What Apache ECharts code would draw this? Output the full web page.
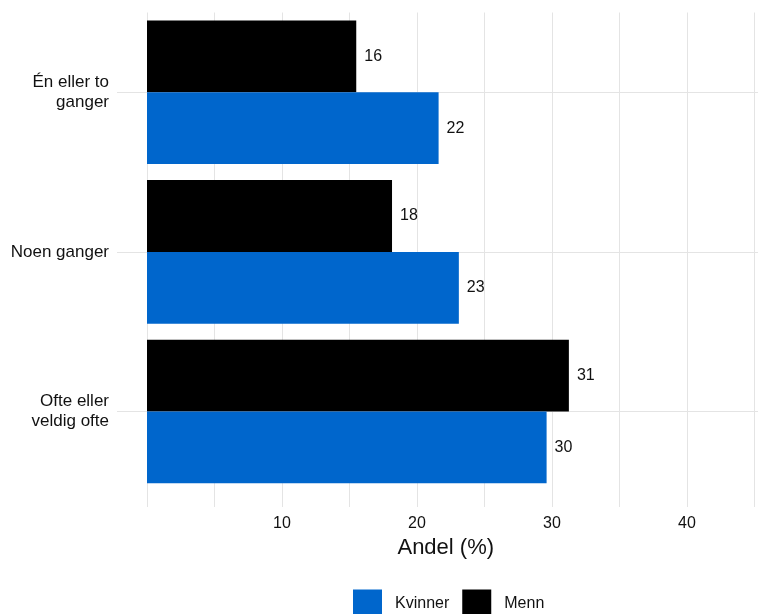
<!DOCTYPE html>
<html>
<head>
<meta charset="utf-8">
<script src="https://cdn.jsdelivr.net/npm/echarts@6/dist/echarts.min.js"></script>
<style>
html,body{margin:0;padding:0;background:#fff;}
#chart{width:758px;height:614px;}
</style>
</head>
<body>
<div id="chart"></div>
<script>
const categories = ['Én eller to\nganger', 'Noen ganger', 'Ofte eller\nveldig ofte'];
const menn = [15.5, 18.15, 31.25];
const kvinner = [21.6, 23.1, 29.6];
const xTickLabels = [10, 20, 30, 40];
const seriesNames = ['Kvinner', 'Menn'];

const FONT = 'Liberation Sans, Arial, sans-serif';
const TXT = '#111111';
const GRIDC = '#e4e4e4';

const chart = echarts.init(document.getElementById('chart'), null, {renderer: 'canvas'});
const labelCfg = {
  show: true, position: 'right', distance: 8,
  fontSize: 16, color: TXT, fontFamily: FONT,
  formatter: p => String(Math.round(p.value))
};
chart.setOption({
  animation: false,
  backgroundColor: '#ffffff',
  grid: [
    {left: 147, right: 3.5, top: 12.5, bottom: 122.7, containLabel: false},
    {left: 147, right: 3.5, top: 12.5, bottom: 107, containLabel: false},
    {left: 117, right: 0, top: 12.5, bottom: 122.7, containLabel: false}
  ],
  xAxis: [
    {gridIndex: 0, type: 'value', min: 0, max: 45, show: false},
    {gridIndex: 1, type: 'value', min: 0, max: 45, interval: 5,
     axisLine: {show: false}, axisTick: {show: false},
     splitLine: {show: true, lineStyle: {color: GRIDC, width: 1}},
     axisLabel: {fontSize: 16, color: TXT, fontFamily: FONT, margin: 9,
       formatter: v => xTickLabels.indexOf(v) >= 0 ? String(v) : ''},
     name: 'Andel (%)', nameLocation: 'middle', nameGap: 26,
     nameTextStyle: {fontSize: 22, color: TXT, fontFamily: FONT, padding: [0, 10, 0, 0]}
    },
    {gridIndex: 2, type: 'value', min: 0, max: 1, show: false}
  ],
  yAxis: [
    {gridIndex: 0, type: 'category', data: categories, inverse: true,
     axisLine: {show: false}, axisTick: {show: false}, splitLine: {show: false},
     axisLabel: {fontSize: 17, color: TXT, fontFamily: FONT, margin: 38, align: 'right',
       lineHeight: 20, padding: [2, 0, 0, 0]}
    },
    {gridIndex: 1, type: 'value', min: 0, max: 1, show: false},
    {gridIndex: 2, type: 'category', data: ['a','b','c','d','e','f'],
     axisLine: {show: false}, axisTick: {show: false}, axisLabel: {show: false},
     splitLine: {show: true, interval: 0, lineStyle: {color: ['transparent', GRIDC], width: 1}}
    }
  ],
  legend: {
    data: seriesNames,
    left: 348, top: 584.5,
    itemWidth: 29, itemHeight: 29, itemGap: 13,
    icon: 'rect',
    textStyle: {fontSize: 16, color: TXT, fontFamily: FONT, padding: [0, 0, 0, 8]}
  },
  series: [
    {name: 'Menn', type: 'bar', xAxisIndex: 0, yAxisIndex: 0, data: menn,
     itemStyle: {color: '#000000'}, barGap: '0%', barCategoryGap: '10%', label: labelCfg},
    {name: 'Kvinner', type: 'bar', xAxisIndex: 0, yAxisIndex: 0, data: kvinner,
     itemStyle: {color: '#0066cc'}, barGap: '0%', barCategoryGap: '10%', label: labelCfg}
  ]
});
</script>
</body>
</html>
